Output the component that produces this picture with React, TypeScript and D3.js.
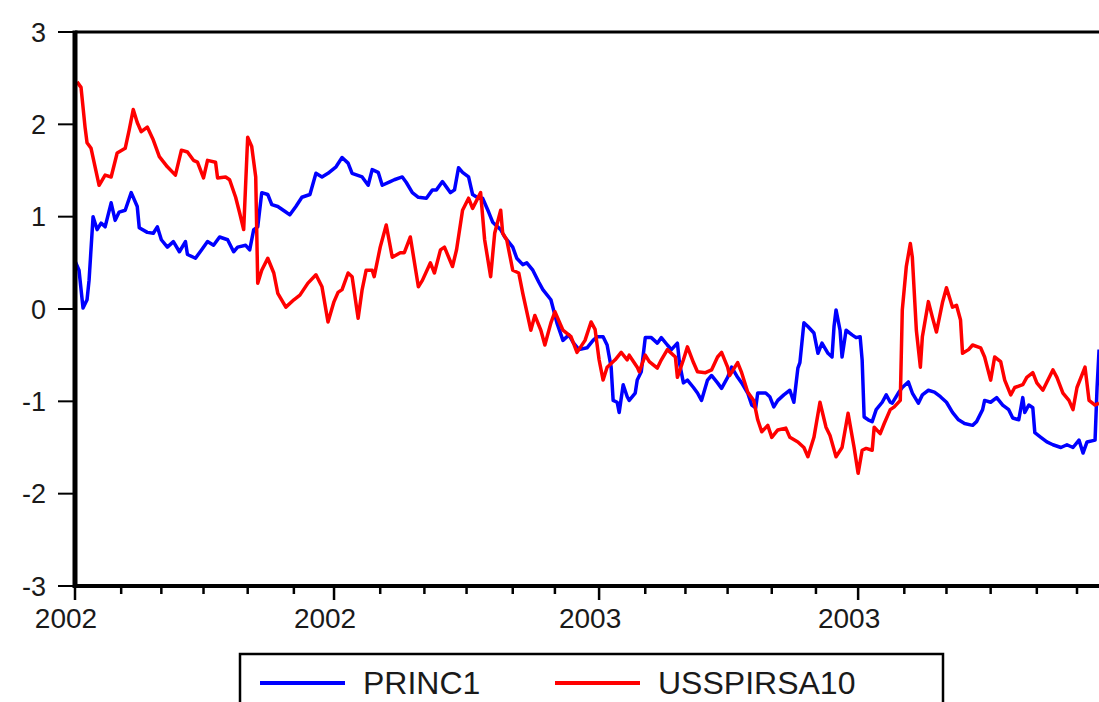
import React from "react";
import * as d3 from "d3";

// Observation index (business day since 2002-01-01) and value for each series
const princ1Obs = [
  0, 2, 4, 6, 7, 9, 11, 13, 15, 18, 20, 22, 25, 28, 31, 32, 36, 39, 41, 43, 46, 49, 52, 55, 56, 60, 63, 66, 69, 72,
  76, 79, 81, 85, 87, 89, 91, 93, 96, 98, 101, 105, 107, 110, 113, 117, 120, 123, 126, 130, 133, 136, 138, 143, 146,
  148, 151, 153, 157, 159, 163, 165, 168, 171, 175, 178, 180, 183, 185, 187, 189, 191, 193, 196, 198, 201, 203, 206,
  208, 212, 214, 218, 220, 223, 225, 228, 231, 233, 237, 240, 243, 246, 248, 251, 255, 258, 260, 263, 265, 267, 268,
  270, 271, 273, 275, 276, 279, 280, 282, 284, 287, 290, 292, 295, 297, 300, 301, 303, 305, 308, 310, 312, 315, 317,
  320, 322, 325, 327, 330, 332, 335, 337, 339, 340, 344, 346, 348, 350, 353, 356, 358, 360, 361, 363, 365, 368, 370,
  372, 375, 377, 378, 379, 381, 382, 384, 387, 389, 391, 392, 393, 395, 397, 399, 402, 404, 406, 407, 410, 412, 415,
  417, 420, 422, 425, 428, 431, 434, 437, 440, 443, 447, 449, 452, 453, 456, 459, 462, 465, 467, 470, 472, 473, 475,
  477, 478, 481, 484, 487, 491, 494, 497, 500, 502, 504, 508, 509, 510,
];
const princ1Values = [
  0.52, 0.42, 0.01, 0.1, 0.31, 1.0, 0.86, 0.93, 0.89, 1.15, 0.96, 1.05, 1.07, 1.26, 1.11, 0.88, 0.83, 0.82, 0.89, 0.75,
  0.67, 0.73, 0.62, 0.73, 0.59, 0.55, 0.64, 0.73, 0.69, 0.78, 0.75, 0.62, 0.67, 0.69, 0.64, 0.86, 0.89, 1.26, 1.24,
  1.13, 1.11, 1.05, 1.02, 1.11, 1.21, 1.24, 1.47, 1.43, 1.47, 1.54, 1.64, 1.58, 1.47, 1.43, 1.34, 1.51, 1.48, 1.34,
  1.38, 1.4, 1.43, 1.37, 1.26, 1.21, 1.2, 1.29, 1.29, 1.38, 1.32, 1.26, 1.29, 1.53, 1.48, 1.43, 1.24, 1.2, 1.2, 1.05,
  0.94, 0.86, 0.78, 0.67, 0.55, 0.48, 0.5, 0.42, 0.29, 0.21, 0.1, -0.15, -0.34, -0.28, -0.36, -0.44, -0.42, -0.34,
  -0.3, -0.3, -0.39, -0.63, -0.99, -1.01, -1.12, -0.82, -0.95, -0.99, -0.91, -0.77, -0.68, -0.31, -0.31, -0.37, -0.31,
  -0.39, -0.44, -0.37, -0.58, -0.8, -0.77, -0.85, -0.91, -0.99, -0.77, -0.72, -0.8, -0.86, -0.74, -0.63, -0.74, -0.8,
  -0.91, -1.04, -1.07, -0.91, -0.91, -0.95, -1.06, -0.99, -0.93, -0.88, -1.01, -0.64, -0.58, -0.15, -0.19, -0.26,
  -0.48, -0.37, -0.48, -0.52, -0.19, -0.01, -0.23, -0.52, -0.23, -0.28, -0.31, -0.3, -0.55, -1.17, -1.2, -1.22, -1.09,
  -1.01, -0.93, -1.01, -1.02, -0.91, -0.85, -0.79, -0.91, -1.02, -0.93, -0.88, -0.9, -0.95, -1.01, -1.12, -1.2, -1.24,
  -1.26, -1.22, -1.09, -0.99, -1.01, -0.96, -1.04, -1.09, -1.18, -1.2, -0.96, -1.12, -1.04, -1.07, -1.34, -1.39, -1.44,
  -1.47, -1.5, -1.47, -1.5, -1.42, -1.56, -1.44, -1.42, -0.85, -0.44,
];

const usspiObs = [
  1, 3, 5, 6, 8, 12, 15, 18, 21, 25, 27, 29, 31, 33, 36, 39, 42, 46, 50, 53, 56, 59, 61, 64, 66, 70, 71, 75, 77, 80,
  82, 84, 86, 88, 90, 91, 93, 96, 99, 101, 105, 109, 112, 116, 120, 123, 126, 129, 131, 133, 136, 138, 141, 143, 145,
  148, 149, 152, 155, 158, 162, 164, 167, 171, 173, 177, 179, 182, 184, 188, 190, 193, 196, 198, 202, 204, 207, 209,
  212, 213, 215, 218, 221, 223, 227, 229, 232, 234, 237, 239, 243, 247, 250, 254, 257, 259, 261, 263, 265, 269, 272,
  275, 276, 280, 281, 284, 286, 290, 292, 295, 299, 300, 303, 305, 308, 310, 314, 317, 320, 322, 325, 326, 330, 332,
  335, 338, 340, 342, 345, 347, 350, 354, 356, 360, 363, 365, 368, 371, 374, 376, 379, 382, 385, 388, 390, 392, 394,
  397, 398, 401, 403, 406, 408, 411, 412, 414, 416, 417, 419, 421, 422, 425, 427, 429, 432, 434, 437, 439, 441, 442,
  445, 447, 451, 453, 456, 458, 461, 463, 466, 468, 472, 474, 477, 479, 482, 487, 489, 492, 495, 497, 499, 503, 505,
  508, 510,
];
const usspiValues = [
  2.46, 2.4, 1.97, 1.8, 1.74, 1.34, 1.45, 1.43, 1.69, 1.74, 1.94, 2.16, 2.02, 1.92, 1.97, 1.83, 1.65, 1.54, 1.45, 1.72,
  1.7, 1.61, 1.59, 1.42, 1.61, 1.59, 1.42, 1.43, 1.4, 1.21, 1.04, 0.86, 1.86, 1.76, 1.43, 0.28, 0.42, 0.55, 0.39, 0.17,
  0.02, 0.1, 0.15, 0.28, 0.37, 0.24, -0.14, 0.08, 0.18, 0.21, 0.39, 0.35, -0.1, 0.21, 0.42, 0.42, 0.35, 0.67, 0.91,
  0.56, 0.61, 0.61, 0.78, 0.24, 0.31, 0.5, 0.39, 0.64, 0.67, 0.46, 0.64, 1.07, 1.2, 1.09, 1.26, 0.75, 0.35, 0.82, 1.07,
  0.82, 0.75, 0.42, 0.39, 0.17, -0.23, -0.07, -0.23, -0.39, -0.15, -0.03, -0.23, -0.3, -0.47, -0.34, -0.14, -0.22,
  -0.55, -0.77, -0.63, -0.55, -0.47, -0.55, -0.5, -0.63, -0.68, -0.5, -0.57, -0.64, -0.55, -0.44, -0.52, -0.74, -0.55,
  -0.41, -0.58, -0.68, -0.69, -0.66, -0.52, -0.47, -0.63, -0.72, -0.58, -0.69, -0.9, -0.99, -1.2, -1.33, -1.26, -1.39,
  -1.31, -1.29, -1.39, -1.44, -1.5, -1.6, -1.39, -1.01, -1.28, -1.37, -1.6, -1.5, -1.13, -1.5, -1.78, -1.53, -1.51,
  -1.53, -1.28, -1.35, -1.24, -1.09, -1.06, -0.99, -0.01, 0.46, 0.71, 0.56, -0.23, -0.63, -0.3, 0.08, -0.09, -0.25,
  0.07, 0.23, 0.02, 0.04, -0.12, -0.48, -0.44, -0.39, -0.42, -0.52, -0.77, -0.52, -0.57, -0.77, -0.93, -0.85, -0.82,
  -0.74, -0.69, -0.8, -0.88, -0.66, -0.74, -0.91, -0.99, -1.09, -0.85, -0.63, -0.99, -1.04, -1.02,
];

const seriesNames = ["PRINC1", "USSPIRSA10"];
const seriesColors = ["#0000ff", "#ff0000"];
const yTicks = [3, 2, 1, 0, -1, -2, -3];
const xTickLabels = ["2002", "2002", "2003", "2003"];
const sampleStart = new Date(2002, 0, 1);
const sampleEnd = new Date(2004, 0, 1);

const W = 1099;
const H = 702;
const plotLeft = 75;
const plotTop = 32;
const plotBottom = 586;
const pxPerObs = 2.008;
const FONT = "Arial, 'Liberation Sans', Helvetica, sans-serif";

export default function App() {
  // business-day calendar of the sample
  const days = d3.timeDay.range(sampleStart, sampleEnd).filter((d) => d.getDay() % 6 !== 0);
  const n = days.length;
  const plotRight = plotLeft + n * pxPerObs;

  const x = d3.scaleLinear().domain([0, n]).range([plotLeft, plotRight]);
  const y = d3.scaleLinear().domain([-3, 3]).range([plotBottom, plotTop]);

  // month starts → ticks; January and July are major
  const monthTicks: { i: number; major: boolean }[] = [];
  days.forEach((d, i) => {
    if (i === 0 || d.getMonth() !== days[i - 1].getMonth()) {
      monthTicks.push({ i, major: d.getMonth() % 6 === 0 });
    }
  });
  const majorTicks = monthTicks.filter((t) => t.major);

  const line = d3
    .line<[number, number]>()
    .x((d) => x(d[0]))
    .y((d) => y(d[1]));

  const series = [
    princ1Obs.map((o, k) => [o, princ1Values[k]] as [number, number]),
    usspiObs.map((o, k) => [o, usspiValues[k]] as [number, number]),
  ];

  return (
    <svg
      width={W}
      height={H}
      style={{ position: "absolute", left: 0, top: 0, background: "#fff" }}
      fontFamily={FONT}
    >
      <rect x={0} y={0} width={W} height={H} fill="#fff" />

      {/* series */}
      {series.map((s, k) => (
        <path
          key={k}
          d={line(s) || ""}
          fill="none"
          stroke={seriesColors[k]}
          strokeWidth={3.5}
          strokeLinejoin="round"
        />
      ))}

      {/* frame */}
      <line x1={plotLeft} x2={plotRight} y1={plotTop} y2={plotTop} stroke="#000" strokeWidth={3} />
      <line x1={plotLeft - 2} x2={plotRight} y1={plotBottom} y2={plotBottom} stroke="#000" strokeWidth={4} />
      <line x1={plotLeft} x2={plotLeft} y1={plotTop - 1.5} y2={plotBottom + 2} stroke="#000" strokeWidth={5} />
      <line x1={plotRight} x2={plotRight} y1={plotTop} y2={plotBottom} stroke="#000" strokeWidth={3} />

      {/* y axis */}
      {yTicks.map((v) => (
        <g key={v}>
          <line x1={58} x2={plotLeft} y1={y(v)} y2={y(v)} stroke="#000" strokeWidth={2} />
          <text
            x={46}
            y={y(v)}
            dy="0.36em"
            textAnchor="end"
            fontSize={27}
            fill="#1a1a1a"
          >
            {v}
          </text>
        </g>
      ))}

      {/* x axis */}
      {monthTicks.map((t) => (
        <line
          key={t.i}
          x1={x(t.i)}
          x2={x(t.i)}
          y1={plotBottom + 2}
          y2={plotBottom + (t.major ? 14 : 8)}
          stroke="#000"
          strokeWidth={2.5}
        />
      ))}
      {majorTicks.map((t, k) => (
        <text
          key={t.i}
          x={x(t.i) - 9}
          y={628}
          textAnchor="middle"
          fontSize={28}
          fill="#1a1a1a"
        >
          {xTickLabels[k]}
        </text>
      ))}

      {/* legend */}
      <rect x={240} y={654} width={703} height={70} fill="#fff" stroke="#000" strokeWidth={2.5} />
      {seriesNames.map((name, k) => {
        const lx = 260 + k * 295;
        return (
          <g key={name}>
            <line x1={lx} x2={lx + 85} y1={683} y2={683} stroke={seriesColors[k]} strokeWidth={4} />
            <text x={lx + 103} y={694} fontSize={32} fill="#1a1a1a">
              {name}
            </text>
          </g>
        );
      })}
    </svg>
  );
}
